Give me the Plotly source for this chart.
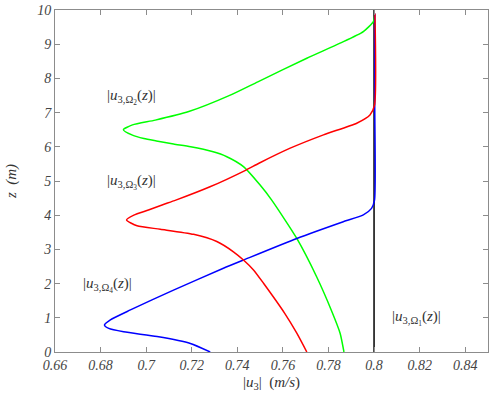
import plotly.graph_objects as go

# Omega_1 (black)
z1 = [0, 10]
u1 = [0.8, 0.8]

# Omega_4 (blue)
z4 = [0, 0.25, 0.45, 0.59, 0.69, 0.79, 0.94, 1.23, 1.81, 2.45, 2.69, 3.32, 3.81, 4.01, 4.2, 4.44, 7.2, 9.9]
u4 = [0.7281, 0.7194, 0.7048, 0.6901, 0.6836, 0.6817, 0.6843, 0.6931, 0.7120, 0.7339, 0.7427, 0.7661, 0.7865, 0.7953, 0.7989, 0.8002, 0.8003, 0.8003]

# Omega_3 (red)
z3 = [0, 0.55, 1.13, 2.01, 2.40, 2.69, 2.93, 3.23, 3.44, 3.59, 3.69, 3.86, 4.0, 4.15, 4.30, 4.44, 4.83, 5.32, 5.52, 5.96, 6.35, 6.69, 6.93, 7.22, 9.9]
u3 = [0.7705, 0.7661, 0.7608, 0.7515, 0.7471, 0.7427, 0.7383, 0.7310, 0.7208, 0.7062, 0.6960, 0.6914, 0.6946, 0.7010, 0.7070, 0.7130, 0.7280, 0.7438, 0.7495, 0.7632, 0.7778, 0.7924, 0.7982, 0.8002, 0.8004]

# Omega_2 (green)
z2 = [0, 0.55, 1.23, 2.20, 3.32, 4.44, 4.88, 5.42, 5.71, 5.86, 6.00, 6.08, 6.17, 6.24, 6.34, 6.50, 6.64, 6.78, 7.03, 7.51, 7.90, 8.59, 9.03, 9.37, 9.66, 9.85]
u2 = [0.7868, 0.7851, 0.7812, 0.7748, 0.7661, 0.7551, 0.7500, 0.7427, 0.7354, 0.7290, 0.7195, 0.7120, 0.7045, 0.6990, 0.6940, 0.6900, 0.6940, 0.7040, 0.7187, 0.7369, 0.7490, 0.7705, 0.7851, 0.7953, 0.7997, 0.8003]

x_ticks = [0.66, 0.68, 0.70, 0.72, 0.74, 0.76, 0.78, 0.80, 0.82, 0.84]
x_tick_text = ["0.66", "0.68", "0.7", "0.72", "0.74", "0.76", "0.78", "0.8", "0.82", "0.84"]
y_ticks = list(range(0, 11))

labels = [
    ("|<i>u</i><sub>3,Ω<sub>2</sub></sub>(<i>z</i>)|", 0.6935, 7.47),
    ("|<i>u</i><sub>3,Ω<sub>3</sub></sub>(<i>z</i>)|", 0.6935, 4.97),
    ("|<i>u</i><sub>3,Ω<sub>4</sub></sub>(<i>z</i>)|", 0.6832, 1.96),
    ("|<i>u</i><sub>3,Ω<sub>1</sub></sub>(<i>z</i>)|", 0.8185, 0.99),
]

serif = "Liberation Serif"
fig = go.Figure()
for zz, uu, col in [(z1, u1, "#000000"), (z2, u2, "#00ff00"), (z4, u4, "#0000ff"), (z3, u3, "#ff0000")]:
    fig.add_trace(go.Scatter(x=uu, y=zz, mode="lines",
                             line=dict(color=col, width=1.5, shape="spline", smoothing=0.6),
                             showlegend=False, hoverinfo="skip"))

for txt, x, y in labels:
    fig.add_annotation(x=x, y=y, text=txt, showarrow=False,
                       font=dict(family=serif, size=15, color="#333333"))

axis_common = dict(showline=True, mirror="allticks", linecolor="#8c8c8c", linewidth=1,
                   ticks="inside", ticklen=5, tickcolor="#8c8c8c", showgrid=False, zeroline=False,
                   automargin=False, ticklabeloverflow="allow",
                   tickfont=dict(family=serif, size=14, color="#444444", style="italic"))

fig.update_xaxes(range=[0.66, 0.85], tickvals=x_ticks, ticktext=x_tick_text,
                 title=dict(text="|<i>u</i><sub>3</sub>|  (<i>m/s</i>)",
                            font=dict(family=serif, size=15, color="#333333"), standoff=4),
                 **axis_common)
fig.update_yaxes(range=[0, 10], tickvals=y_ticks,
                 title=dict(text="<i>z  (m)</i>",
                            font=dict(family=serif, size=15, color="#333333"), standoff=16),
                 **axis_common)

fig.update_layout(width=500, height=397, margin=dict(l=55, r=12, t=10, b=45),
                  plot_bgcolor="white", paper_bgcolor="white")
fig.write_html("out.html", config={"displayModeBar": False},
               post_script="document.body.style.margin='0';")
